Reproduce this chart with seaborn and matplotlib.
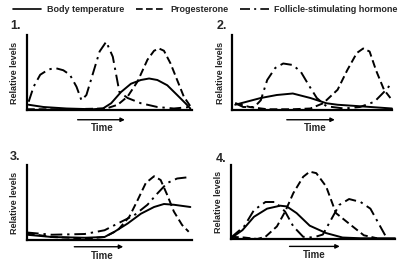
import matplotlib
matplotlib.use('Agg')
import matplotlib.pyplot as plt
from matplotlib.lines import Line2D
import seaborn as sns

# Relative levels (time 0-100, level 0-100 = axis top)
# Panel 1
p1_body_t = [1, 10, 24, 40, 46, 51, 57, 63, 69, 74, 79, 85, 91, 96, 99]
p1_body = [7, 4, 2, 1, 2, 9, 24, 35, 40, 42, 40, 33, 20, 9, 2]
p1_prog_t = [0, 24, 48, 55, 61, 67, 73, 77, 80, 83, 87, 91, 95, 99]
p1_prog = [1, 1, 2, 7, 18, 38, 67, 79, 82, 79, 62, 40, 18, 5]
p1_fsh_t = [1, 4, 8, 13, 17, 22, 26, 30, 33, 36, 40, 44, 48, 52, 56, 61, 69, 79, 89, 99]
p1_fsh = [11, 31, 47, 54, 56, 53, 47, 31, 13, 20, 49, 78, 91, 71, 24, 16, 9, 4, 2, 4]

# Panel 2
p2_body_t = [2, 18, 28, 38, 49, 59, 66, 80, 100]
p2_body = [7, 16, 20, 22, 16, 9, 7, 5, 2]
p2_prog_t = [2, 11, 22, 38, 49, 57, 66, 72, 78, 82, 86, 90, 95, 99]
p2_prog = [9, 4, 1, 1, 2, 9, 27, 53, 76, 82, 78, 53, 27, 16]
p2_fsh_t = [2, 7, 14, 18, 22, 27, 32, 38, 43, 48, 53, 59, 70, 80, 89, 95, 100]
p2_fsh = [9, 4, 4, 13, 40, 56, 62, 60, 51, 33, 16, 5, 2, 4, 11, 24, 36]

# Panel 3
p3_body_t = [0, 15, 35, 47, 53, 61, 69, 77, 83, 89, 99]
p3_body = [7, 4, 3, 4, 11, 22, 35, 44, 48, 47, 44]
p3_prog_t = [0, 15, 37, 47, 55, 62, 67, 72, 77, 81, 85, 89, 94, 98]
p3_prog = [9, 4, 2, 4, 13, 31, 53, 76, 85, 80, 60, 38, 20, 11]
p3_fsh_t = [0, 15, 35, 47, 55, 65, 73, 79, 85, 91, 99]
p3_fsh = [10, 7, 8, 13, 22, 33, 47, 62, 76, 82, 84]

# Panel 4
p4_body_t = [0, 7, 14, 22, 30, 34, 40, 48, 58, 68, 79, 100]
p4_body = [1, 12, 30, 41, 45, 44, 35, 18, 8, 2, 1, 1]
p4_prog_t = [0, 8, 16, 21, 28, 33, 38, 44, 48, 52, 58, 64, 73, 81, 89]
p4_prog = [3, 2, 0, 3, 17, 37, 62, 84, 91, 89, 71, 35, 19, 5, 1]
p4_fsh_t = [0, 8, 14, 21, 27, 33, 38, 44, 50, 56, 61, 66, 72, 79, 85, 90, 94]
p4_fsh = [2, 17, 39, 50, 50, 37, 17, 3, 2, 6, 26, 46, 54, 50, 41, 21, 5]

series_names = ['Body temperature', 'Progesterone', 'Follicle-stimulating hormone']
styles = ['-', (0, (4, 2)), (0, (6, 2.5, 1.2, 2.5))]

panels = [
    ('1.', [(p1_body_t, p1_body), (p1_prog_t, p1_prog), (p1_fsh_t, p1_fsh)]),
    ('2.', [(p2_body_t, p2_body), (p2_prog_t, p2_prog), (p2_fsh_t, p2_fsh)]),
    ('3.', [(p3_body_t, p3_body), (p3_prog_t, p3_prog), (p3_fsh_t, p3_fsh)]),
    ('4.', [(p4_body_t, p4_body), (p4_prog_t, p4_prog), (p4_fsh_t, p4_fsh)]),
]

sns.set_theme(style='white')
plt.rcParams['font.family'] = ['Liberation Sans Narrow', 'Liberation Sans', 'DejaVu Sans']

fig = plt.figure(figsize=(4.2, 2.66), dpi=100)

W, H = 420.0, 266.0
# axis boxes in pixels: left, top, right, bottom
boxes = [(27, 35, 192, 110), (232, 35, 392, 110), (27, 165, 192, 240), (231, 165, 395, 239)]
labels_pos = [(10, 26), (217, 26), (10, 157), (216, 159)]
arrows = [(0.29, 0.61, 0.455), (0.325, 0.66, 0.52), (0.27, 0.6, 0.455), (0.34, 0.68, 0.51)]
arrow_y = [-0.13, -0.13, -0.09, -0.10]
time_y = [-0.24, -0.24, -0.21, -0.22]

for i, (num, curves) in enumerate(panels):
    l, t, r, b = boxes[i]
    ax = fig.add_axes([l / W, 1 - b / H, (r - l) / W, (b - t) / H])
    for (xs, ys), ls in zip(curves, styles):
        sns.lineplot(x=xs, y=ys, ax=ax, color='black', linestyle=ls, lw=1.4, clip_on=False)
    ax.set_xlim(0, 100)
    ax.set_ylim(0, 100)
    ax.set_xticks([])
    ax.set_yticks([])
    ax.set_xlabel('')
    ax.set_ylabel('')
    for s in ['top', 'right']:
        ax.spines[s].set_visible(False)
    for s in ['left', 'bottom']:
        ax.spines[s].set_linewidth(1.6)
        ax.spines[s].set_color('black')
    ax.text(-0.075, 0.5, 'Relative levels', rotation=90, transform=ax.transAxes,
            ha='center', va='center', fontsize=6.5, fontweight='bold')
    a0, a1, tx = arrows[i]
    ax.annotate('', xy=(a1, arrow_y[i]), xytext=(a0, arrow_y[i]), xycoords='axes fraction',
                arrowprops=dict(arrowstyle='-|>', color='black', lw=1.0, mutation_scale=6))
    ax.text(tx, time_y[i], 'Time', transform=ax.transAxes, ha='center', va='center',
            fontsize=7, fontweight='bold')
    fig.text(labels_pos[i][0] / W, 1 - labels_pos[i][1] / H, num, ha='left', va='center',
             fontsize=9, fontweight='bold')

handles = [Line2D([], [], color='black', linestyle=ls, lw=1.2) for ls in styles]
fig.legend(handles, series_names, loc='center left', bbox_to_anchor=(0.03, 1 - 10 / H),
           ncol=3, frameon=False, handlelength=3.2, handletextpad=0.6, columnspacing=1.3,
           prop={'size': 6.5, 'weight': 'bold'}, borderpad=0, borderaxespad=0)

fig.savefig('out.png', dpi=100)
